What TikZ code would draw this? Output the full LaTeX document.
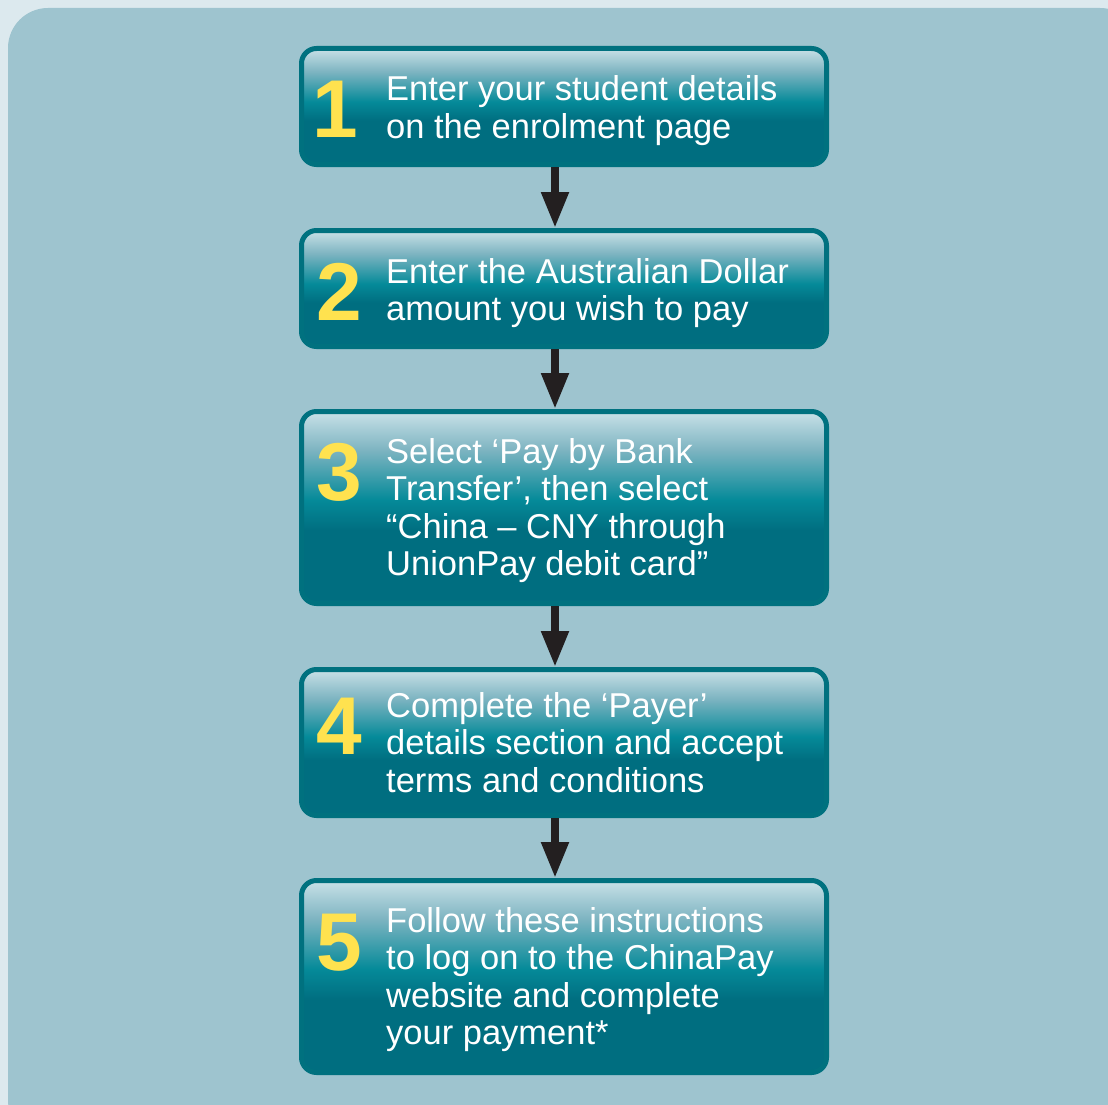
\documentclass[tikz,border=0pt]{standalone}
\usepackage{fontspec}
\setmainfont{Liberation Sans}
\usetikzlibrary{arrows.meta}
\definecolor{bgc}{HTML}{DCE9EE}
\definecolor{panelc}{HTML}{9EC4CF}
\definecolor{borderc}{HTML}{00717F}
\definecolor{darkc}{HTML}{006E80}
\definecolor{midc}{HTML}{058A99}
\definecolor{midlc}{HTML}{7DB4C1}
\definecolor{lightc}{HTML}{C9E1E7}
\definecolor{numc}{HTML}{FFE24F}
\definecolor{arrowc}{HTML}{231F20}
\pgfdeclareverticalshading{boxshade}{100bp}{color(0bp)=(darkc); color(25bp)=(darkc); color(44bp)=(darkc); color(52bp)=(midc); color(65bp)=(midlc); color(75bp)=(lightc); color(100bp)=(lightc)}
\tikzset{
  stepbox/.style={draw=borderc, line width=5pt, rounded corners=15pt, shading=boxshade,
    minimum width=525pt, inner sep=0pt},
  numtxt/.style={anchor=base west, inner sep=0pt, text=numc,
    font=\fontsize{82}{82}\selectfont\bfseries},
  steptxt/.style={anchor=base west, inner sep=0pt, text=white,
    font=\fontsize{34.5}{37.5}\selectfont},
  flow/.style={draw=arrowc, line width=8pt, -{Triangle[width=26pt,length=36pt]}}
}
\newcommand{\lines}[1]{\parbox[t]{440pt}{\raggedright #1}}
\begin{document}
\begin{tikzpicture}[x=1pt,y=-1pt]
\useasboundingbox (0,0) rectangle (1108,1105);
\clip (0,0) rectangle (1108,1105);
\fill[bgc] (0,0) rectangle (1108,1105);
\fill[panelc, rounded corners=40pt] (8,1140) -- (8,8) -- (1140,8) -- (1140,1140) -- cycle;

\node[stepbox, minimum height=116pt] (b1) at (564,106.5) {};
\node[stepbox, minimum height=116pt] (b2) at (564,288.5) {};
\node[stepbox, minimum height=192pt] (b3) at (564,507.5) {};
\node[stepbox, minimum height=146pt] (b4) at (564,742.5) {};
\node[stepbox, minimum height=192pt] (b5) at (564,976.5) {};

\node[numtxt] (n1) at (312,138) {1};
\node[numtxt] (n2) at (316,320) {2};
\node[numtxt] (n3) at (316,500) {3};
\node[numtxt] (n4) at (316,754) {4};
\node[numtxt] (n5) at (316,970) {5};

\node[steptxt] (t1) at (386,101) {\lines{Enter your student details\\on the enrolment page}};
\node[steptxt] (t2) at (386,283) {\lines{Enter the Australian Dollar\\amount you wish to pay}};
\node[steptxt] (t3) at (386,463) {\lines{Select ‘Pay by Bank\\Transfer’, then select\\“China – CNY through\\UnionPay debit card”}};
\node[steptxt] (t4) at (386,717) {\lines{Complete the ‘Payer’\\details section and accept\\terms and conditions}};
\node[steptxt] (t5) at (386,932) {\lines{Follow these instructions\\to log on to the ChinaPay\\website and complete\\your payment*}};

\draw[flow] ([xshift=-9pt]b1.south) -- ([xshift=-9pt]b2.north);
\draw[flow] ([xshift=-9pt]b2.south) -- ([xshift=-9pt]b3.north);
\draw[flow] ([xshift=-9pt]b3.south) -- ([xshift=-9pt]b4.north);
\draw[flow] ([xshift=-9pt]b4.south) -- ([xshift=-9pt]b5.north);
\end{tikzpicture}
\end{document}
